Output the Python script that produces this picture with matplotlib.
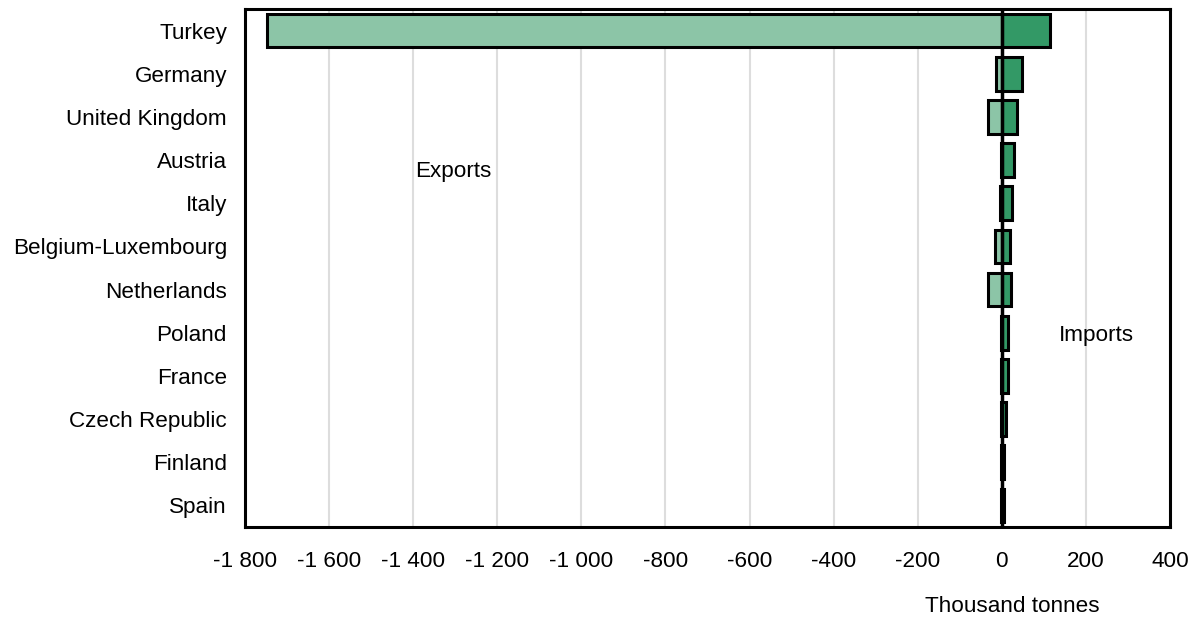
import matplotlib
matplotlib.use("Agg")
import matplotlib.pyplot as plt
import numpy as np

countries = ["Turkey", "Germany", "United Kingdom", "Austria", "Italy",
             "Belgium-Luxembourg", "Netherlands", "Poland", "France",
             "Czech Republic", "Finland", "Spain"]
exports = [-1748, -15, -33, -1, -4, -17, -34, -1, -3, -1, -3, -1]
imports = [114, 47, 36, 28, 25, 20, 21, 15, 14, 10, 6, 6]
xticks = [-1800, -1600, -1400, -1200, -1000, -800, -600, -400, -200, 0, 200, 400]
xticklabels = ["-1 800", "-1 600", "-1 400", "-1 200", "-1 000", "-800", "-600",
               "-400", "-200", "0", "200", "400"]

plt.rcParams['font.family'] = ['Liberation Sans', 'DejaVu Sans']
FS = 16.2

fig = plt.figure(figsize=(12.02, 6.18), dpi=100)
ax = fig.add_axes([245/1202, 1-527/618, 925/1202, 518/618])

y = np.arange(len(countries))
h = 0.78
ax.barh(y, exports, height=h, color="#8cc5a7", edgecolor="black", linewidth=2.2, zorder=3)
ax.barh(y, imports, height=h, color="#339966", edgecolor="black", linewidth=2.2, zorder=3)
ax.axvline(0, color="black", linewidth=2.5, zorder=4)

ax.set_xlim(-1800, 400)
ax.set_ylim(len(countries) - 0.5, -0.5)
ax.set_xticks(xticks)
ax.set_xticklabels(xticklabels)
ax.set_yticks(y)
ax.set_yticklabels(countries)
ax.tick_params(axis="both", length=0, labelsize=FS)
ax.tick_params(axis="x", pad=17)
ax.tick_params(axis="y", pad=13)
ax.grid(axis="x", color="#dddddd", linewidth=1.5, zorder=0)
ax.set_axisbelow(True)
for s in ax.spines.values():
    s.set_linewidth(2.2)
    s.set_color("black")

ax.text(-1305, 3.26, "Exports", fontsize=FS, ha="center", va="center")
ax.text(226, 7.06, "Imports", fontsize=FS, ha="center", va="center")
fig.text(1012/1202, 1-606/618, "Thousand tonnes", fontsize=FS, ha="center", va="center")

fig.savefig("out.png", dpi=100)
